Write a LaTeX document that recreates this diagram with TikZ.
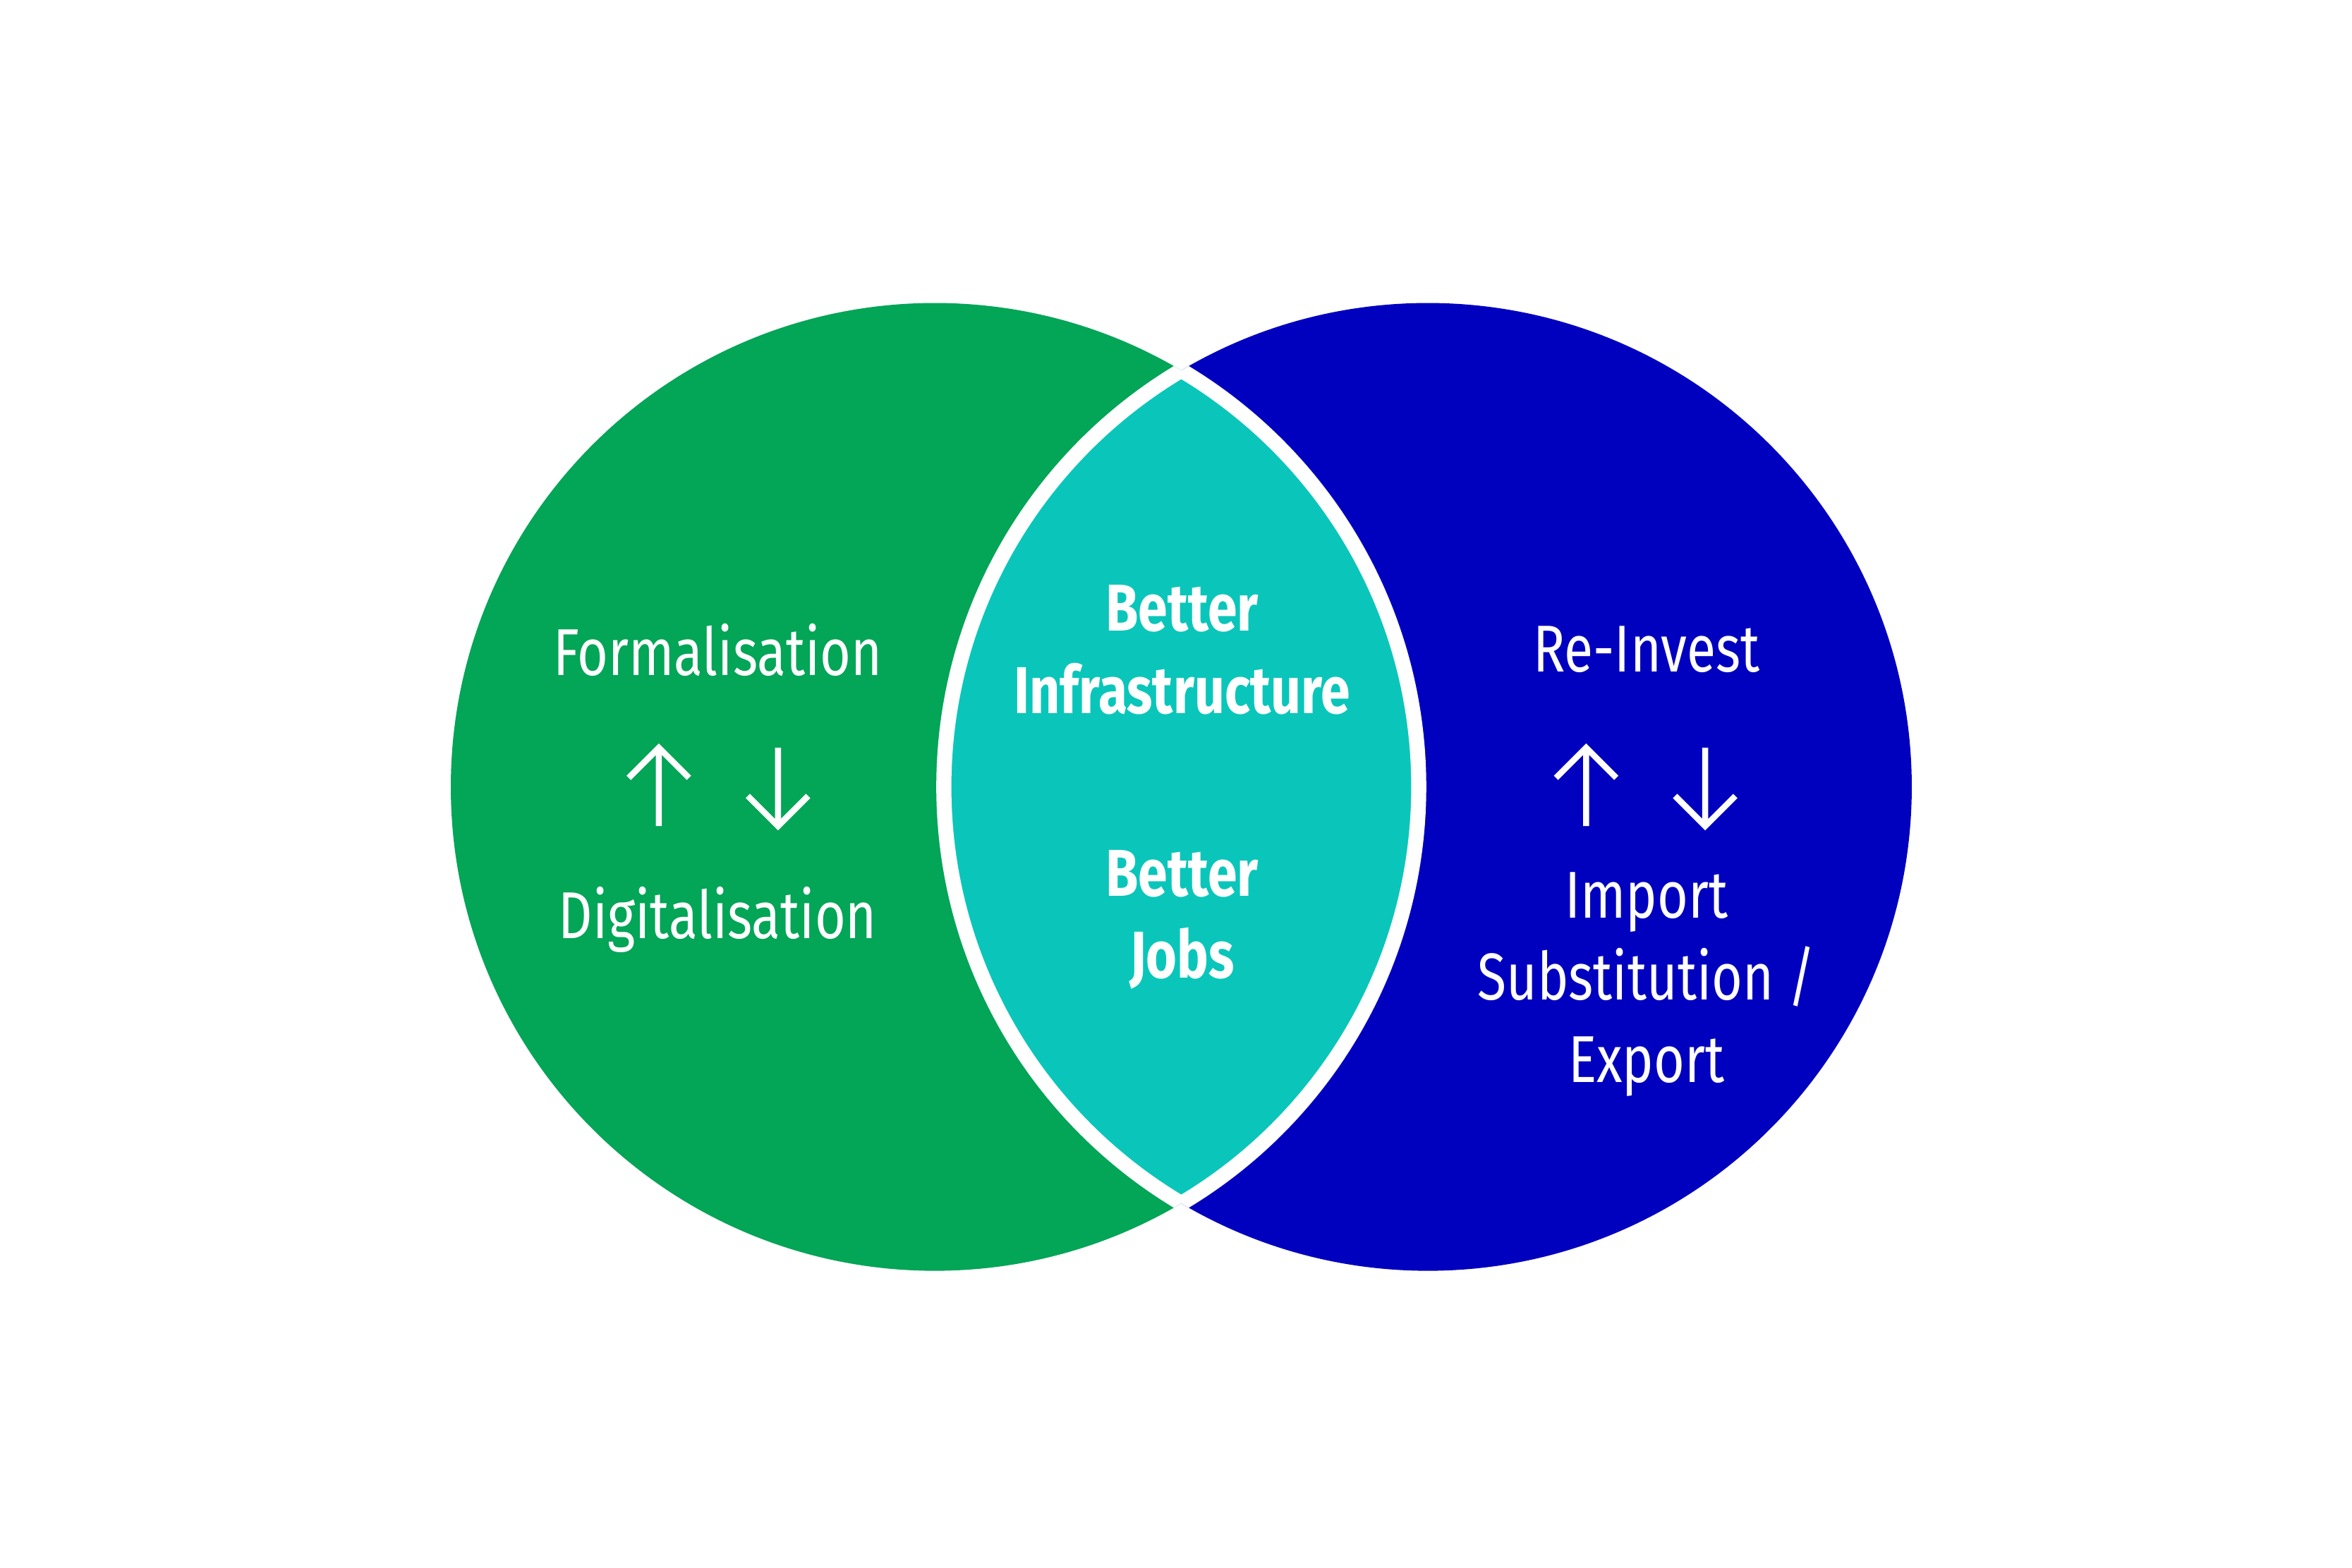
\documentclass[tikz,border=0pt]{standalone}
\usepackage{fontspec}
\setmainfont[FakeStretch=0.8]{Fira Sans}
\definecolor{lgreen}{HTML}{03A557}
\definecolor{rblue}{HTML}{0000BF}
\definecolor{lteal}{HTML}{0AC6BA}
\tikzset{
  lbl/.style={text=white,font=\fontsize{12.5}{15.5}\selectfont,align=center},
  boldlbl/.style={lbl,font=\fontsize{12.5}{15.5}\selectfont\bfseries},
  arr/.style={white,line width=0.04cm}
}
\newcommand{\uparr}[1]{\draw[arr] ($(#1)+(0,26)$) -- ($(#1)+(0,-26)$) ($(#1)+(-20,-6)$) -- ($(#1)+(0,-26)$) -- ($(#1)+(20,-6)$);}
\newcommand{\dnarr}[1]{\draw[arr] ($(#1)+(0,-26)$) -- ($(#1)+(0,26)$) ($(#1)+(-20,6)$) -- ($(#1)+(0,26)$) -- ($(#1)+(20,6)$);}
\usetikzlibrary{calc}
\begin{document}
\begin{tikzpicture}[x=0.01cm,y=-0.01cm]
    \useasboundingbox (0,0) rectangle (1560,1040);
    % circles
    \fill[lgreen] (620,522) circle (321);
    \fill[rblue] (947,522) circle (321);
    % lens
    \begin{scope}
      \clip (620,522) circle (321);
      \fill[lteal] (947,522) circle (321);
      \draw[white,line width=0.1cm] (947,522) circle (321);
    \end{scope}
    \begin{scope}
      \clip (947,522) circle (321);
      \draw[white,line width=0.1cm] (620,522) circle (321);
    \end{scope}
    % texts
    \node[lbl] (form) at (476,431) {Formalisation};
    \node[lbl] (digi) at (476,610) {Digitalisation};
    \node[boldlbl] (infra) at (784,431) {Better\\Infrastructure};
    \node[boldlbl] (jobs) at (784,610) {Better\\Jobs};
    \node[lbl] (reinv) at (1092,431) {Re-Invest};
    \node[lbl] (imp) at (1092,653) {Import\\Substitution /\\Export};
    % arrows
    \coordinate (lup) at (437,522);
    \coordinate (ldn) at (516,522);
    \coordinate (rup) at (1052,522);
    \coordinate (rdn) at (1131,522);
    \uparr{lup}
    \dnarr{ldn}
    \uparr{rup}
    \dnarr{rdn}
\end{tikzpicture}
\end{document}
